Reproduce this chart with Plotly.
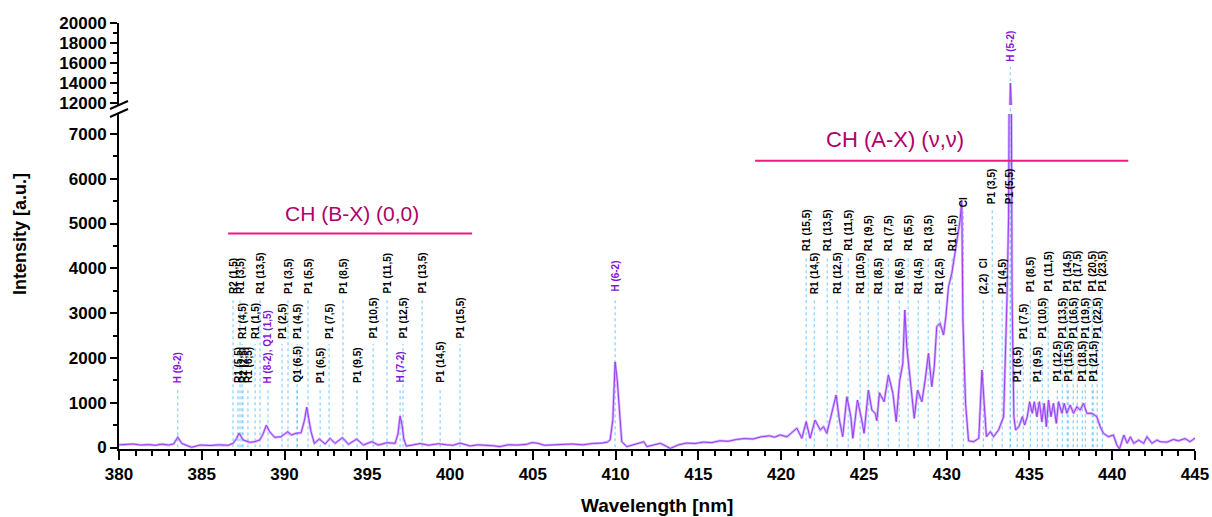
import plotly.graph_objects as go

# ---------------- data ----------------
wavelength = [
    380.0, 380.4, 380.86, 381.3, 381.8, 382.2, 382.58, 383.0, 383.3, 383.55, 383.8, 384.1, 384.39, 384.9,
    385.5, 386.0, 386.6, 386.9, 387.1, 387.25, 387.5, 387.9, 388.2, 388.5, 388.7, 388.9, 389.1, 389.4,
    389.8, 390.0, 390.2, 390.4, 390.7, 391.0, 391.2, 391.34, 391.5, 391.6, 391.8, 392.1, 392.45, 392.75,
    393.05, 393.5, 393.86, 394.36, 394.76, 395.27, 395.67, 396.17, 396.68, 396.85, 396.98, 397.1, 397.2,
    397.35, 397.8, 398.2, 398.7, 399.3, 399.8, 400.2, 400.6, 401.2, 401.7, 402.2, 402.6, 403.0, 403.5,
    404.1, 404.6, 404.96, 405.3, 405.7, 406.2, 406.8, 407.4, 408.0, 408.6, 409.2, 409.5, 409.67, 409.83,
    409.97, 410.1, 410.23, 410.37, 410.68, 411.1, 411.7, 411.9, 412.3, 412.7, 413.0, 413.3, 413.8, 414.3,
    414.8, 415.3, 415.8, 416.3, 416.8, 417.3, 417.8, 418.3, 418.8, 419.3, 419.6, 419.94, 420.35, 420.65,
    420.95, 421.25, 421.51, 421.75, 422.05, 422.36, 422.56, 422.76, 423.06, 423.32, 423.52, 423.72,
    423.97, 424.21, 424.33, 424.61, 424.87, 425.01, 425.27, 425.48, 425.68, 425.78, 425.94, 426.22,
    426.48, 426.75, 426.95, 427.15, 427.35, 427.47, 427.59, 427.79, 428.04, 428.24, 428.5, 428.7, 428.9,
    429.1, 429.25, 429.4, 429.6, 429.81, 429.95, 430.11, 430.31, 430.5, 430.71, 430.81, 430.91, 430.98,
    431.14, 431.32, 431.63, 431.94, 432.13, 432.27, 432.4, 432.64, 432.83, 433.13, 433.44, 433.64,
    433.74, 433.85, 433.95, 434.06, 434.16, 434.36, 434.57, 434.71, 434.87, 435.01, 435.17, 435.29,
    435.45, 435.6, 435.75, 435.89, 436.02, 436.15, 436.3, 436.45, 436.62, 436.76, 436.96, 437.1, 437.26,
    437.46, 437.66, 437.87, 438.06, 438.27, 438.47, 438.77, 439.07, 439.27, 439.47, 439.77, 440.07,
    440.28, 440.44, 440.7, 440.9, 441.1, 441.3, 441.6, 441.9, 442.1, 442.4, 442.7, 442.9, 443.3, 443.7,
    444.0, 444.4, 444.7, 445.0,
]
intensity = [
    60, 70, 80, 55, 65, 50, 75, 55, 80, 230, 90, 45, 5, 56,
    45, 60, 50, 95, 200, 320, 170, 116, 130, 167, 300, 500, 353, 228,
    241, 300, 353, 279, 317, 330, 600, 900, 500, 353, 94, 190, 78, 205,
    94, 220, 71, 190, 56, 130, 56, 107, 94, 300, 700, 500, 200,
    33, 60, 90, 50, 85, 60, 50, 100, 35, 60, 55, 40, 20, 60,
    55, 70, 110, 95, 50, 60, 75, 80, 60, 90, 100, 120, 170, 610,
    1910, 1500, 840, 130, 20, 60, 130, 20, 60, 94, 40, -20, 60, 100,
    90, 120, 110, 150, 140, 180, 200, 190, 240, 260, 230, 280, 240, 330,
    430, 205, 576, 205, 614, 391, 465, 317, 763, 1172, 614, 241,
    1134, 688, 205, 1060, 614, 317, 1283, 837, 763, 600, 1223, 1022,
    1618, 1209, 576, 1469, 1879, 3069, 2250, 1580, 652, 1283, 1022, 1507, 2103,
    1357, 1804, 2697, 2772, 2511, 2920, 3589, 3888, 4335, 4781, 5078, 5525, 2846,
    987, 150, 130, 205, 1730, 987, 241, 353, 241, 391, 688, 3292,
    5152, 14000, 3366, 688, 391, 465, 688, 502, 688, 1022, 763, 1022,
    688, 1022, 576, 987, 465, 1060, 688, 987, 540, 1022, 763, 987, 763,
    949, 763, 911, 837, 987, 763, 763, 688, 465, 317, 241, 279,
    56, -30, 279, 94, 241, 94, 167, 94, 241, 94, 167, 130, 120, 180,
    150, 200, 130, 210,
]

# line identifications: text, wavelength (nm), label row
line_texts = [
    "H (9-2)", "R2 (1,5)", "R1 (3,5)", "R1 (13,5)", "P1 (3,5)", "P1 (5,5)", "P1 (8,5)", "P1 (11,5)", "P1 (13,5)",
    "R1 (4,5)", "R1 (1,5)", "P1 (2,5)", "P1 (4,5)", "P1 (7,5)", "P1 (10,5)", "P1 (12,5)", "P1 (15,5)",
    "R1 (5,5)", "R2 (2,5)", "R1 (6,5)", "H (8-2), Q1 (1,5)", "Q1 (6,5)", "P1 (6,5)", "P1 (9,5)", "H (7-2)", "P1 (14,5)",
    "H (6-2)", "H (5-2)",
    "R1 (15,5)", "R1 (13,5)", "R1 (11,5)", "R1 (9,5)", "R1 (7,5)", "R1 (5,5)", "R1 (3,5)", "R1 (1,5)",
    "R1 (14,5)", "R1 (12,5)", "R1 (10,5)", "R1 (8,5)", "R1 (6,5)", "R1 (4,5)", "R1 (2,5)",
    "CI", "(2,2)  CI", "P1 (3,5)", "P1 (4,5)", "P1 (5,5)",
    "P1 (8,5)", "P1 (11,5)", "P1 (14,5)", "P1 (17,5)", "P1 (20,5)", "P1 (23,5)",
    "P1 (7,5)", "P1 (10,5)", "P1 (13,5)", "P1 (16,5)", "P1 (19,5)", "P1 (22,5)",
    "P1 (6,5)", "P1 (9,5)", "P1 (12,5)", "P1 (15,5)", "P1 (18,5)", "P1 (21,5)",
]
line_wl = [
    383.55, 386.89, 387.31, 388.52, 390.21, 391.42, 393.53, 396.19, 398.31,
    387.43, 388.22, 389.85, 390.76, 392.69, 395.35, 397.16, 400.60,
    387.19, 387.49, 387.79, 389.00, 390.76, 392.15, 394.38, 396.98, 399.40,
    409.97, 433.84,
    421.51, 422.78, 424.05, 425.26, 426.47, 427.67, 428.88, 430.33,
    422.00, 423.38, 424.77, 425.86, 427.13, 428.28, 429.55,
    431.00, 432.21, 432.75, 433.35, 433.84,
    435.05, 436.13, 437.28, 437.89, 438.79, 439.40,
    434.62, 435.77, 436.98, 437.64, 438.37, 439.09,
    434.26, 435.47, 436.68, 437.34, 438.19, 438.85,
]
line_row = (
    ["low"] + ["top"] * 8 + ["mid"] * 8 + ["low"] * 9 + ["htop", "hup"]
    + ["ax1"] * 8 + ["ax2"] * 7
    + ["ci", "ax2", "pa", "ax2", "pa"]
    + ["top"] * 6 + ["mid"] * 6 + ["low"] * 6
)

band_names = ["CH (B-X) (0,0)", "CH (A-X) (\u03bd,\u03bd)"]
band_start = [386.59, 418.43]
band_end = [401.33, 440.97]

# ---------------- layout helpers ----------------
PLOT_TOP, PLOT_BOTTOM, PLOT_LEFT, PLOT_RIGHT = 23, 449, 119, 1195
PH = PLOT_BOTTOM - PLOT_TOP
PW = PLOT_RIGHT - PLOT_LEFT


def py(p):
    return (PLOT_BOTTOM - p) / PH


def px(p):
    return (p - PLOT_LEFT) / PW


row_bottom_px = {"top": 295, "mid": 340, "low": 384, "htop": 293, "hup": 63,
                 "ax1": 252, "ax2": 295, "ci": 208, "pa": 205}
ax_rows = {"top": 293, "mid": 340, "low": 383}

FONT = "Liberation Sans, Arial, sans-serif"
SPEC_DARK = "#9b3cf0"
SPEC_LIGHT = "rgba(190,150,255,0.75)"
H_COLOR = "#8418d8"
DOT_COLOR = "#6cc6ff"
BAND_LINE = "#f0197f"
BAND_TEXT = "#b0006a"

fig = go.Figure()
for ya in ["y", "y2"]:
    fig.add_trace(go.Scatter(x=wavelength, y=intensity, mode="lines", yaxis=ya,
                             line=dict(color=SPEC_LIGHT, width=2.6), hoverinfo="skip", showlegend=False))
    fig.add_trace(go.Scatter(x=wavelength, y=intensity, mode="lines", yaxis=ya,
                             line=dict(color=SPEC_DARK, width=1), showlegend=False))

annotations = []
shapes = []
for txt, wl, row in zip(line_texts, line_wl, line_row):
    if wl > 420 and row in ax_rows:
        bpx = ax_rows[row]
    else:
        bpx = row_bottom_px[row]
    color = H_COLOR if txt.startswith("H") else "black"
    annotations.append(dict(x=wl, xref="x", y=py(bpx), yref="paper", text=txt, textangle=-90,
                            xanchor="center", yanchor="bottom", showarrow=False, borderpad=0,
                            font=dict(family=FONT, size=10, color=color, weight="bold")))
    shapes.append(dict(type="line", xref="x", yref="paper", x0=wl, x1=wl, y0=0.004, y1=py(bpx + 4),
                       line=dict(color=DOT_COLOR, width=1, dash="dot"), layer="below"))

# band markers
band_line_px = [233.5, 160.7]
band_text_px = [(352, 213.5), (895, 139)]
band_font = [21, 22]
for name, s, e, lpx, (tx, ty), fs in zip(band_names, band_start, band_end, band_line_px, band_text_px, band_font):
    shapes.append(dict(type="line", xref="x", yref="paper", x0=s, x1=e, y0=py(lpx), y1=py(lpx),
                       line=dict(color=BAND_LINE, width=2)))
    annotations.append(dict(x=px(tx), xref="paper", y=py(ty), yref="paper", text=name, showarrow=False,
                            xanchor="center", yanchor="middle",
                            font=dict(family=FONT, size=fs, color=BAND_TEXT)))

# axis break marks
for (x0, y0, x1, y1) in [(110, 109, 128, 101), (110, 117, 128, 109)]:
    shapes.append(dict(type="line", xref="paper", yref="paper", x0=px(x0), y0=py(y0), x1=px(x1), y1=py(y1),
                       line=dict(color="black", width=2)))

# axis titles
annotations.append(dict(x=px(657), xref="paper", y=py(505), yref="paper", text="Wavelength [nm]",
                        showarrow=False, xanchor="center", yanchor="middle",
                        font=dict(family=FONT, size=19, color="black", weight="bold")))
annotations.append(dict(x=px(20), xref="paper", y=py(234), yref="paper", text="Intensity [a.u.]",
                        showarrow=False, xanchor="center", yanchor="middle", textangle=-90,
                        font=dict(family=FONT, size=18, color="black", weight="bold")))

tickfont = dict(family=FONT, size=17, color="black", weight="bold")
lower_top_val = (447.5 - 114) / 0.0448
upper_bot_val = 20000 - (105 - 23) / 0.01

fig.update_layout(
    width=1212, height=517,
    margin=dict(l=PLOT_LEFT, r=1212 - PLOT_RIGHT, t=PLOT_TOP, b=517 - PLOT_BOTTOM, autoexpand=False),
    paper_bgcolor="white", plot_bgcolor="white",
    showlegend=False,
    xaxis=dict(range=[380, 445], tick0=380, dtick=5, showline=True, linecolor="black", linewidth=2,
               ticks="outside", ticklen=9, tickwidth=2, tickcolor="black", tickfont=tickfont,
               minor=dict(dtick=1, ticks="outside", ticklen=5, tickwidth=1.5, tickcolor="black"),
               showgrid=False, zeroline=False, anchor="y", automargin=False),
    yaxis=dict(domain=[0, py(114)], range=[-33, lower_top_val], tick0=0, dtick=1000,
               showline=True, linecolor="black", linewidth=2, ticks="outside", ticklen=7, tickwidth=2,
               tickcolor="black", tickfont=tickfont, tickformat="d",
               minor=dict(dtick=500, ticks="outside", ticklen=4, tickwidth=1.5, tickcolor="black"),
               showgrid=False, zeroline=False, anchor="x", automargin=False),
    yaxis2=dict(domain=[py(105), 1], range=[upper_bot_val, 20000],
                tickvals=[12000, 14000, 16000, 18000, 20000], tickformat="d",
                showline=True, linecolor="black", linewidth=2, ticks="outside", ticklen=7, tickwidth=2,
                tickcolor="black", tickfont=tickfont,
                minor=dict(tickvals=[13000, 15000, 17000, 19000], ticks="outside", ticklen=4,
                           tickwidth=1.5, tickcolor="black"),
                showgrid=False, zeroline=False, anchor="x", automargin=False),
    annotations=annotations,
    shapes=shapes,
)

fig.write_html("out.html")
